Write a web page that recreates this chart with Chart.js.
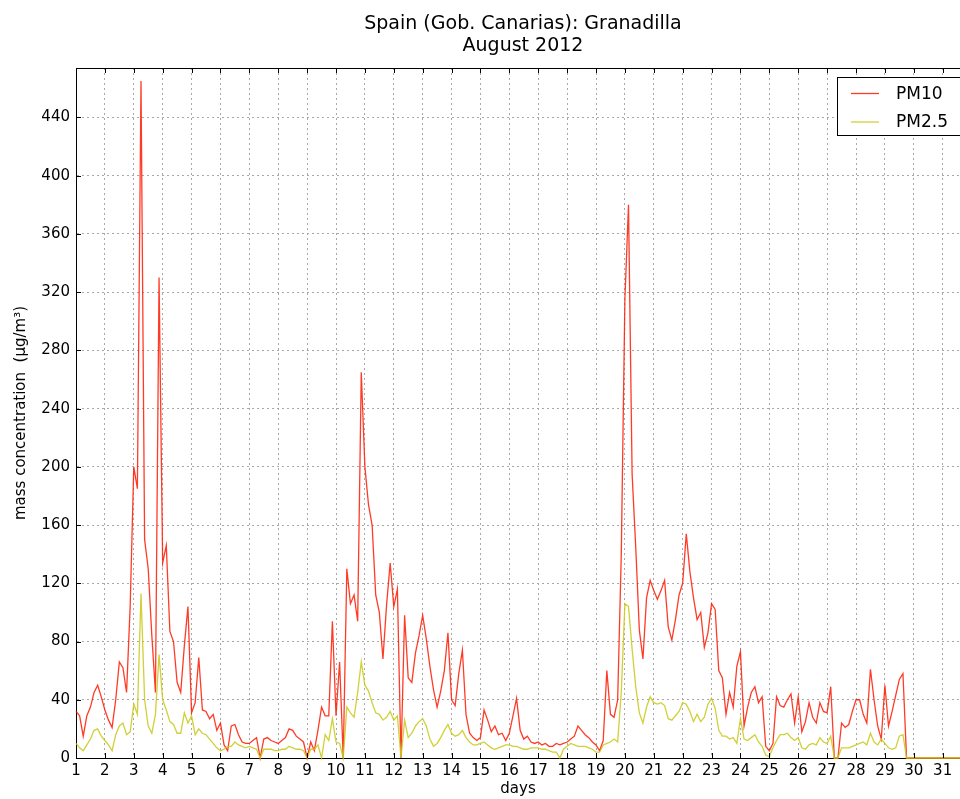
<!DOCTYPE html>
<html>
<head>
<meta charset="utf-8">
<title>Spain (Gob. Canarias): Granadilla - August 2012</title>
<script src="https://cdn.jsdelivr.net/npm/chart.js@4.4.1/dist/chart.umd.min.js"></script>
<style>
    html, body { margin: 0; padding: 0; background: #fff; overflow: hidden; }
    #wrap { position: relative; width: 960px; height: 799px; }
</style>
</head>
<body>
<div id="wrap"><canvas id="pmChart"></canvas></div>
<script>
// 3-hourly samples, 8 per day, starting at day 1 00:00
const STEP_DAYS = 3 / 24;

const pm10 = [
    32, 29, 15, 29, 35, 45, 50, 42,        // 1
    33, 26, 21, 40, 66, 62, 45, 104,       // 2
    200, 185, 465, 150, 130, 84, 45, 330,  // 3
    134, 146, 87, 80, 52, 45, 77, 104,     // 4
    31, 38, 69, 33, 32, 27, 30, 19,        // 5
    24, 9, 5, 22, 23, 16, 11, 10,          // 6
    10, 12, 14, 0, 13, 14, 12, 11,         // 7
    10, 12, 14, 20, 19, 15, 13, 11,        // 8
    0, 11, 5, 19, 35, 29, 29, 94,          // 9
    29, 66, 0, 130, 106, 112, 94, 265,     // 10
    200, 174, 160, 112, 100, 68, 105, 134, // 11
    104, 116, 0, 98, 55, 52, 72, 84,       // 12
    98, 82, 63, 47, 35, 46, 60, 86,        // 13
    40, 36, 58, 74, 30, 17, 14, 12,        // 14
    14, 33, 26, 18, 22, 16, 17, 12,        // 15
    17, 29, 41, 19, 13, 15, 11, 10,        // 16
    11, 9, 10, 8, 8, 10, 9, 10,            // 17
    11, 13, 15, 22, 19, 16, 14, 11,        // 18
    9, 5, 12, 60, 30, 28, 40, 140,         // 19
    315, 380, 195, 145, 88, 68, 110, 122,  // 20
    115, 109, 115, 122, 90, 81, 95, 112,   // 21
    120, 154, 128, 110, 95, 100, 76, 86,   // 22
    106, 102, 60, 55, 30, 45, 35, 63,      // 23
    73, 22, 35, 45, 49, 38, 42, 8,         // 24
    5, 10, 42, 36, 35, 40, 44, 24,         // 25
    42, 18, 25, 38, 28, 24, 38, 32,        // 26
    31, 49, 0, 0, 24, 21, 23, 32,          // 27
    40, 40, 30, 24, 61, 40, 22, 13,        // 28
    50, 22, 32, 43, 54, 58, 0, 0,          // 29
    0, 0, 0, 0, 0, 0, 0, 0,                // 30
    0, 0, 0, 0, 0, 0, 0, 0                 // 31
];

const pm25 = [
    10, 7, 5, 9, 13, 19, 20, 15,           // 1
    12, 9, 5, 16, 22, 24, 16, 18,          // 2
    37, 30, 113, 40, 22, 17, 30, 71,       // 3
    40, 33, 25, 23, 17, 17, 31, 24,        // 4
    29, 16, 20, 17, 16, 13, 10, 7,         // 5
    5, 6, 8, 8, 11, 9, 8, 7,               // 6
    8, 7, 6, 0, 6, 6, 6, 5,                // 7
    5, 6, 6, 8, 7, 6, 6, 5,                // 8
    0, 6, 6, 9, 0, 16, 12, 27,             // 9
    11, 10, 0, 35, 31, 28, 45, 66,         // 10
    50, 46, 38, 31, 30, 26, 28, 32,        // 11
    26, 29, 0, 26, 14, 17, 22, 25,         // 12
    27, 22, 13, 8, 10, 14, 19, 23,         // 13
    17, 15, 16, 19, 14, 11, 9, 9,          // 14
    10, 11, 9, 7, 6, 7, 8, 9,              // 15
    9, 8, 8, 7, 6, 6, 7, 7,                // 16
    7, 6, 6, 5, 4, 4, 0, 6,                // 17
    8, 10, 9, 8, 8, 8, 7, 6,               // 18
    4, 4, 9, 10, 11, 13, 11, 45,           // 19
    106, 104, 75, 49, 31, 24, 35, 42,      // 20
    38, 37, 38, 36, 27, 26, 29, 32,        // 21
    38, 37, 32, 25, 30, 25, 28, 37,        // 22
    41, 34, 19, 15, 15, 13, 14, 10,        // 23
    27, 13, 12, 14, 16, 11, 8, 2,          // 24
    1, 7, 12, 16, 16, 17, 14, 12,          // 25
    14, 7, 6, 9, 10, 9, 14, 11,            // 26
    10, 15, 0, 0, 7, 7, 7, 8,              // 27
    9, 10, 11, 9, 17, 11, 9, 13,           // 28
    10, 7, 6, 7, 15, 16, 0, 0,             // 29
    0, 0, 0, 0, 0, 0, 0, 0,                // 30
    0, 0, 0, 0, 0, 0, 0, 0                 // 31
];

const seriesNames = ['PM10', 'PM2.5'];
const titleLines = ['Spain (Gob. Canarias): Granadilla', 'August 2012'];
const yTickStep = 40;
const yMax = 474;
const xMin = 1;
const xMax = 31.6;

const FONT = "'DejaVu Sans', sans-serif";

function toPoints(values) {
    return values.map((v, i) => ({ x: 1 + i * STEP_DAYS, y: v }));
}

// Title, frame, inward tick marks and legend box (matplotlib look)
const decorations = {
    id: 'decorations',
    afterDraw(chart) {
        const { ctx, chartArea: a, scales } = chart;
        const x = scales.x, y = scales.y;
        ctx.save();

        // title
        ctx.fillStyle = '#000';
        ctx.font = '19px ' + FONT;
        ctx.textAlign = 'center';
        ctx.textBaseline = 'middle';
        const cx = (a.left + a.right) / 2 + 5;
        ctx.fillText(titleLines[0], cx, 24);
        ctx.fillText(titleLines[1], cx, 46);

        // top frame and inward ticks
        ctx.strokeStyle = '#000';
        ctx.lineWidth = 1;
        ctx.beginPath();
        ctx.moveTo(a.left, a.top + 0.5);
        ctx.lineTo(a.right, a.top + 0.5);
        x.ticks.forEach(t => {
            const px = Math.round(x.getPixelForValue(t.value)) + 0.5;
            ctx.moveTo(px, a.top);
            ctx.lineTo(px, a.top + 5);
            ctx.moveTo(px, a.bottom);
            ctx.lineTo(px, a.bottom - 5);
        });
        y.ticks.forEach(t => {
            const py = Math.round(y.getPixelForValue(t.value)) + 0.5;
            ctx.moveTo(a.left, py);
            ctx.lineTo(a.left + 5, py);
        });
        ctx.stroke();

        // legend
        const lx = 837.5, ly = 77.5, lw = 160, lh = 58;
        ctx.fillStyle = '#fff';
        ctx.fillRect(lx, ly, lw, lh);
        ctx.strokeRect(lx, ly, lw, lh);
        ctx.font = '17px ' + FONT;
        ctx.textAlign = 'left';
        chart.data.datasets.forEach((ds, i) => {
            const rowY = 93.5 + i * 28.5;
            ctx.strokeStyle = ds.borderColor;
            ctx.lineWidth = 1.3;
            ctx.beginPath();
            ctx.moveTo(851, rowY);
            ctx.lineTo(879, rowY);
            ctx.stroke();
            ctx.fillStyle = '#000';
            ctx.fillText(ds.label, 896, rowY + 1);
        });
        ctx.restore();
    }
};

const ctx = document.getElementById('pmChart').getContext('2d');
const chart = new Chart(ctx, {
    type: 'line',
    data: {
        datasets: [{
            label: seriesNames[0],
            data: toPoints(pm10),
            borderColor: 'rgba(255, 25, 0, 0.85)',
            borderWidth: 1.3,
            pointRadius: 0,
            tension: 0,
            clip: false,
            order: 1
        }, {
            label: seriesNames[1],
            data: toPoints(pm25),
            borderColor: 'rgba(200, 200, 20, 0.85)',
            borderWidth: 1.3,
            pointRadius: 0,
            tension: 0,
            clip: false,
            order: 0
        }]
    },
    options: {
        responsive: true,
        maintainAspectRatio: false,
        animation: false,
        parsing: false,
        layout: { padding: { top: 68, left: 0, right: 0, bottom: 0 } },
        plugins: {
            legend: { display: false },
            tooltip: { enabled: false },
            title: { display: false }
        },
        scales: {
            x: {
                type: 'linear',
                min: xMin,
                max: xMax,
                afterFit: scale => { scale.height = 41; },
                ticks: {
                    stepSize: 1,
                    includeBounds: false,
                    autoSkip: false,
                    maxRotation: 0,
                    padding: 4,
                    color: '#000',
                    font: { family: FONT, size: 15 }
                },
                grid: {
                    color: '#a8a8a8',
                    lineWidth: 1,
                    drawTicks: false
                },
                border: { display: true, color: '#000', width: 1, dash: [2, 3] },
                title: {
                    display: true,
                    text: 'days',
                    color: '#000',
                    padding: { top: 0, bottom: 1 },
                    font: { family: FONT, size: 15 }
                }
            },
            y: {
                type: 'linear',
                min: 0,
                max: yMax,
                afterFit: scale => { scale.width = 76; },
                ticks: {
                    stepSize: yTickStep,
                    includeBounds: false,
                    padding: 6,
                    color: '#000',
                    font: { family: FONT, size: 15 }
                },
                grid: {
                    color: '#a8a8a8',
                    lineWidth: 1,
                    drawTicks: false
                },
                border: { display: true, color: '#000', width: 1, dash: [2, 3] },
                title: {
                    display: true,
                    text: 'mass concentration  (μg/m³)',
                    color: '#000',
                    padding: { top: 12, bottom: 0 },
                    font: { family: FONT, size: 15 }
                }
            }
        }
    },
    plugins: [decorations]
});
</script>
</body>
</html>
